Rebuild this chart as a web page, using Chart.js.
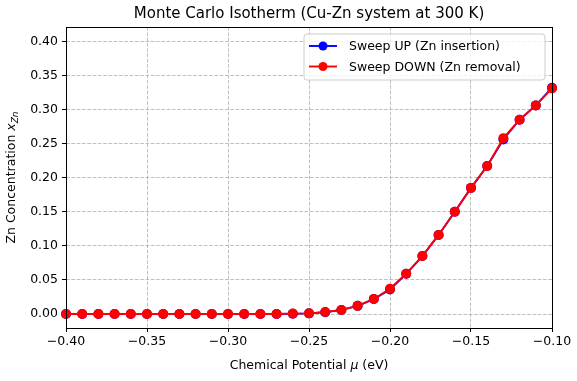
<!DOCTYPE html>
<html>
<head>
<meta charset="utf-8">
<script src="https://cdn.jsdelivr.net/npm/chart.js@4/dist/chart.umd.min.js"></script>
<style>
  html, body { margin: 0; padding: 0; background: #fff; }
  #wrap { width: 577px; height: 381px; }
</style>
</head>
<body>
<div id="wrap"><canvas id="isotherm" width="577" height="381"></canvas></div>
<script>
// chemical potential (eV)
const mu = [-0.40, -0.39, -0.38, -0.37, -0.36, -0.35, -0.34, -0.33, -0.32, -0.31,
            -0.30, -0.29, -0.28, -0.27, -0.26, -0.25, -0.24, -0.23, -0.22, -0.21,
            -0.20, -0.19, -0.18, -0.17, -0.16, -0.15, -0.14, -0.13, -0.12, -0.11, -0.10];
const sweepUp = [0, 0, 0, 0, 0, 0, 0, 0, 0, 0,
                 0, 0, 0, 0, 0.0003, 0.001, 0.0025, 0.006, 0.012, 0.022,
                 0.036, 0.059, 0.085, 0.116, 0.150, 0.185, 0.217, 0.256, 0.285, 0.306, 0.332];
const sweepDown = [0, 0, 0, 0, 0, 0, 0, 0, 0, 0,
                   0, 0, 0, 0, 0.0006, 0.001, 0.003, 0.006, 0.012, 0.022,
                   0.037, 0.059, 0.085, 0.116, 0.150, 0.185, 0.217, 0.258, 0.285, 0.306, 0.331];
const xTicks = [-0.40, -0.35, -0.30, -0.25, -0.20, -0.15, -0.10];
const yTicks = [0.00, 0.05, 0.10, 0.15, 0.20, 0.25, 0.30, 0.35, 0.40];
const seriesNames = ["Sweep UP (Zn insertion)", "Sweep DOWN (Zn removal)"];
const seriesColors = ["#0000ff", "#ff0000"];

const FONT = "DejaVu Sans";

const mplDecor = {
    id: "mplDecor",
    afterDraw(chart) {
        const c = chart.ctx;
        const a = chart.chartArea;
        c.save();
        // frame
        c.strokeStyle = "#000";
        c.lineWidth = 1;
        c.strokeRect(Math.round(a.left) + 0.5, Math.round(a.top) + 0.5,
                     Math.round(a.right - a.left), Math.round(a.bottom - a.top));

        // title
        c.fillStyle = "#000";
        c.font = "15px '" + FONT + "'";
        c.textAlign = "center";
        c.textBaseline = "alphabetic";
        c.fillText("Monte Carlo Isotherm (Cu-Zn system at 300 K)", (a.left + a.right) / 2, 18);

        // x title
        const p1 = "Chemical Potential ", p2 = "\u03bc", p3 = " (eV)";
        c.font = "12.5px '" + FONT + "'";
        const w1 = c.measureText(p1).width, w3 = c.measureText(p3).width;
        c.font = "italic 12.5px '" + FONT + "'";
        const w2 = c.measureText(p2).width;
        let x0 = (a.left + a.right) / 2 - (w1 + w2 + w3) / 2;
        c.textAlign = "left";
        c.font = "12.5px '" + FONT + "'";
        c.fillText(p1, x0, 369);
        c.font = "italic 12.5px '" + FONT + "'";
        c.fillText(p2, x0 + w1, 369);
        c.font = "12.5px '" + FONT + "'";
        c.fillText(p3, x0 + w1 + w2, 369);

        // y title (rotated, with subscript)
        c.save();
        c.translate(15, (a.top + a.bottom) / 2);
        c.rotate(-Math.PI / 2);
        const q1 = "Zn Concentration ", q2 = "x", q3 = "Zn";
        c.font = "12.5px '" + FONT + "'";
        const v1 = c.measureText(q1).width;
        c.font = "italic 12.5px '" + FONT + "'";
        const v2 = c.measureText(q2).width;
        c.font = "italic 9px '" + FONT + "'";
        const v3 = c.measureText(q3).width;
        let y0 = -(v1 + v2 + v3) / 2;
        c.font = "12.5px '" + FONT + "'";
        c.fillText(q1, y0, 0);
        c.font = "italic 12.5px '" + FONT + "'";
        c.fillText(q2, y0 + v1, 0);
        c.font = "italic 9px '" + FONT + "'";
        c.fillText(q3, y0 + v1 + v2, 3);
        c.restore();

        // legend
        const lx = 304, ly = 34, lw = 241, lh = 46, r = 3;
        c.beginPath();
        c.moveTo(lx + r, ly);
        c.arcTo(lx + lw, ly, lx + lw, ly + lh, r);
        c.arcTo(lx + lw, ly + lh, lx, ly + lh, r);
        c.arcTo(lx, ly + lh, lx, ly, r);
        c.arcTo(lx, ly, lx + lw, ly, r);
        c.closePath();
        c.fillStyle = "rgba(255,255,255,0.8)";
        c.fill();
        c.strokeStyle = "#cccccc";
        c.lineWidth = 1;
        c.stroke();
        c.font = "12.5px '" + FONT + "'";
        c.textBaseline = "middle";
        seriesNames.forEach((name, i) => {
            const yy = ly + 12 + i * 20.5;
            c.strokeStyle = seriesColors[i];
            c.lineWidth = 1.9;
            c.beginPath();
            c.moveTo(lx + 5, yy);
            c.lineTo(lx + 33, yy);
            c.stroke();
            c.fillStyle = seriesColors[i];
            c.beginPath();
            c.arc(lx + 19, yy, 4.5, 0, Math.PI * 2);
            c.fill();
            c.fillStyle = "#000";
            c.fillText(name, lx + 45, yy + 1);
        });
        c.restore();
    }
};

function fmt(v) {
    const s = Math.abs(v).toFixed(2);
    return v < -1e-9 ? "\u2212" + s : s;
}

const gridOpts = {
    color: "#b0b0b0",
    lineWidth: 0.8,
    tickColor: "#000",
    tickLength: 4,
    tickWidth: 1
};
const borderOpts = { display: false, dash: [3.7, 1.6] };

new Chart(document.getElementById("isotherm").getContext("2d"), {
    type: "line",
    data: {
        datasets: [
            {
                label: seriesNames[0],
                data: mu.map((x, i) => ({ x: x, y: sweepUp[i] })),
                borderColor: seriesColors[0],
                backgroundColor: seriesColors[0],
                borderWidth: 1.9,
                pointRadius: 5,
                pointBorderWidth: 0,
                order: 2
            },
            {
                label: seriesNames[1],
                data: mu.map((x, i) => ({ x: x, y: sweepDown[i] })),
                borderColor: seriesColors[1],
                backgroundColor: seriesColors[1],
                borderWidth: 1.9,
                pointRadius: 5,
                pointBorderWidth: 0,
                order: 1
            }
        ]
    },
    options: {
        responsive: false,
        animation: false,
        clip: false,
        layout: { padding: { left: 0, right: 25, top: 27, bottom: 0 } },
        plugins: {
            legend: { display: false },
            title: { display: false },
            tooltip: { enabled: false }
        },
        scales: {
            x: {
                type: "linear",
                min: -0.40,
                max: -0.10,
                afterBuildTicks: s => { s.ticks = xTicks.map(v => ({ value: v })); },
                afterFit: s => { s.height = 53; },
                border: borderOpts,
                grid: gridOpts,
                ticks: {
                    color: "#000",
                    font: { family: FONT, size: 12.5 },
                    padding: 2,
                    maxRotation: 0,
                    autoSkip: false,
                    callback: v => fmt(v)
                }
            },
            y: {
                type: "linear",
                min: -0.0205,
                max: 0.421,
                afterBuildTicks: s => { s.ticks = yTicks.map(v => ({ value: v })); },
                afterFit: s => { s.width = 66; },
                border: borderOpts,
                grid: gridOpts,
                ticks: {
                    color: "#000",
                    font: { family: FONT, size: 12.5 },
                    padding: 4,
                    autoSkip: false,
                    callback: v => fmt(v)
                }
            }
        }
    },
    plugins: [mplDecor]
});
</script>
</body>
</html>
